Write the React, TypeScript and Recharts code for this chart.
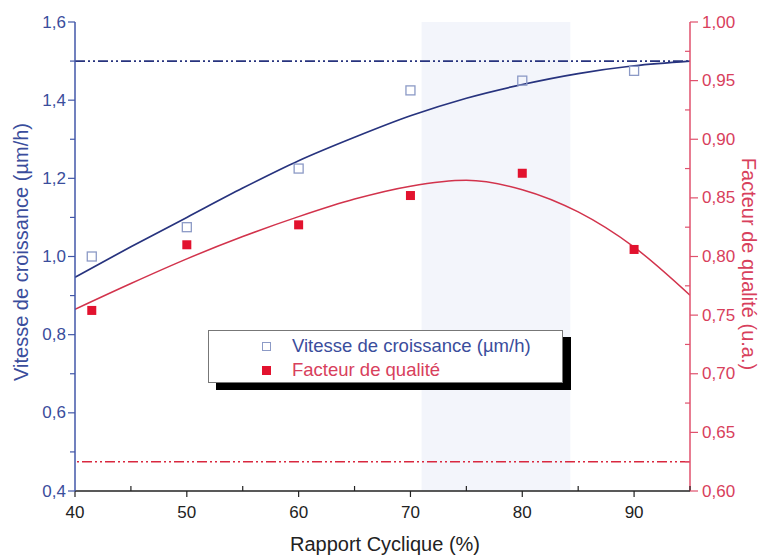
import React from 'react';
import { ComposedChart, Line, Scatter, XAxis, YAxis, ReferenceLine, ReferenceArea } from 'recharts';

// Measured points
const rapportCyclique = [41.5, 50, 60, 70, 80, 90];
const vitesseMesuree = [1.0, 1.075, 1.225, 1.425, 1.45, 1.475];
const qualiteMesuree = [0.754, 0.81, 0.827, 0.852, 0.871, 0.806];

// Fitted curves
const fitX = [40, 45, 50, 55, 60, 65, 70, 75, 80, 85, 90, 95];
const vitesseFit = [0.947, 1.025, 1.1, 1.175, 1.245, 1.305, 1.36, 1.405, 1.44, 1.468, 1.488, 1.5];
const qualiteFit = [0.755, 0.777, 0.798, 0.817, 0.834, 0.849, 0.86, 0.865, 0.857, 0.838, 0.808, 0.767];

// Reference (threshold) lines
const seuilVitesse = 1.5;
const seuilQualite = 0.625;

// Faint background band
const bandeX = [71, 84.3];

// Ticks
const xTicks = [40, 45, 50, 55, 60, 65, 70, 75, 80, 85, 90, 95];
const leftTicks = [0.4, 0.5, 0.6, 0.7, 0.8, 0.9, 1.0, 1.1, 1.2, 1.3, 1.4, 1.5, 1.6];
const rightTicks = [0.6, 0.625, 0.65, 0.675, 0.7, 0.725, 0.75, 0.775, 0.8, 0.825, 0.85, 0.875, 0.9, 0.925, 0.95, 0.975, 1.0];

const FONT = '"Liberation Sans", Arial, Helvetica, sans-serif';
const BLUE_AXIS = '#4257a8';
const BLUE_TEXT = '#3a4d9c';
const BLUE_LINE = '#27337e';
const RED_AXIS = '#e0516d';
const RED_TEXT = '#d8405c';
const RED_LINE = '#d2334c';

const vitessePts = rapportCyclique.map((x, i) => ({ x, v: vitesseMesuree[i] }));
const qualitePts = rapportCyclique.map((x, i) => ({ x, q: qualiteMesuree[i] }));
const vitesseFitPts = fitX.map((x, i) => ({ x, v: vitesseFit[i] }));
const qualiteFitPts = fitX.map((x, i) => ({ x, q: qualiteFit[i] }));

const XTick = (props: any) => {
  const { x, y, payload } = props;
  const v = payload.value;
  const major = Math.round(v) % 10 === 0;
  return (
    <g>
      {major ? (
        <line x1={x} y1={y} x2={x} y2={y + 6} stroke="#222" strokeWidth={1.2} />
      ) : (
        <line x1={x} y1={y} x2={x} y2={y - 5} stroke="#222" strokeWidth={1.2} />
      )}
      {major && (
        <text x={x} y={y + 27} textAnchor="middle" fontSize={17} fill="#222" fontFamily={FONT}>
          {v}
        </text>
      )}
    </g>
  );
};

const LeftTick = (props: any) => {
  const { x, y, payload } = props;
  const v = payload.value;
  const major = Math.round(v * 10) % 2 === 0;
  return (
    <g>
      <line x1={x} y1={y} x2={x - (major ? 7 : 5)} y2={y} stroke={BLUE_AXIS} strokeWidth={1.2} />
      {major && (
        <text x={x - 9} y={y} textAnchor="end" dominantBaseline="central" fontSize={17} fill={BLUE_TEXT} fontFamily={FONT}>
          {v.toFixed(1).replace('.', ',')}
        </text>
      )}
    </g>
  );
};

const RightTick = (props: any) => {
  const { x, y, payload } = props;
  const v = payload.value;
  const major = Math.round(v * 1000) % 50 === 0;
  return (
    <g>
      {major ? (
        <line x1={x} y1={y} x2={x + 8} y2={y} stroke={RED_AXIS} strokeWidth={1.2} />
      ) : (
        <line x1={x} y1={y} x2={x - 5} y2={y} stroke={RED_AXIS} strokeWidth={1.2} />
      )}
      {major && (
        <text x={x + 12} y={y} textAnchor="start" dominantBaseline="central" fontSize={17} fill={RED_TEXT} fontFamily={FONT}>
          {v.toFixed(2).replace('.', ',')}
        </text>
      )}
    </g>
  );
};

const LeftTitle = () => (
  <text x={21} y={252} transform="rotate(-90 21 252)" textAnchor="middle" dominantBaseline="central" fontSize={20} fill={BLUE_TEXT} fontFamily={FONT}>
    Vitesse de croissance (µm/h)
  </text>
);

const RightTitle = () => (
  <text x={749} y={264} transform="rotate(90 749 264)" textAnchor="middle" dominantBaseline="central" fontSize={20} fill={RED_TEXT} fontFamily={FONT}>
    Facteur de qualité (u.a.)
  </text>
);

const BottomTitle = () => (
  <text x={385} y={544} textAnchor="middle" dominantBaseline="central" fontSize={20} fill="#222" fontFamily={FONT}>
    Rapport Cyclique (%)
  </text>
);

const OpenSquare = (p: any) => (
  <rect x={p.cx - 4.5} y={p.cy - 4.5} width={9} height={9} fill="none" stroke="#8c9ac6" strokeWidth={1.3} />
);
const FilledSquare = (p: any) => (
  <rect x={p.cx - 4.5} y={p.cy - 4.5} width={9} height={9} fill="#e2122e" />
);

export default function App() {
  return (
    <div style={{ position: 'absolute', left: 0, top: 0, width: 762, height: 558, background: '#fff', fontFamily: FONT }}>
      <ComposedChart width={762} height={558} margin={{ top: 22, right: 0, bottom: 0, left: 0 }}>
        <XAxis
          dataKey="x"
          type="number"
          domain={[40, 95]}
          ticks={xTicks}
          interval={0}
          height={67}
          tickSize={0}
          tickMargin={0}
          tick={<XTick />}
          axisLine={{ stroke: '#222', strokeWidth: 1.5 }}
          label={<BottomTitle />}
          allowDataOverflow
        />
        <XAxis xAxisId="top" orientation="top" type="number" domain={[40, 95]} height={0} tick={false} tickLine={false} axisLine={{ stroke: '#222', strokeWidth: 1.5 }} />
        <YAxis
          yAxisId="left"
          type="number"
          domain={[0.4, 1.6]}
          ticks={leftTicks}
          interval={0}
          width={75}
          tickSize={0}
          tickMargin={0}
          tick={<LeftTick />}
          axisLine={{ stroke: BLUE_AXIS, strokeWidth: 1.5 }}
          label={<LeftTitle />}
          allowDataOverflow
        />
        <YAxis
          yAxisId="right"
          orientation="right"
          type="number"
          domain={[0.6, 1.0]}
          ticks={rightTicks}
          interval={0}
          width={72}
          tickSize={0}
          tickMargin={0}
          tick={<RightTick />}
          axisLine={{ stroke: RED_AXIS, strokeWidth: 1.5 }}
          label={<RightTitle />}
          allowDataOverflow
        />
        <ReferenceArea yAxisId="left" x1={bandeX[0]} x2={bandeX[1]} y1={0.4} y2={1.6} fill="#eef1f9" fillOpacity={0.7} stroke="none" />
        <ReferenceLine yAxisId="left" y={seuilVitesse} stroke={BLUE_LINE} strokeWidth={1.6} strokeDasharray="10 3 2 3 2 3" />
        <ReferenceLine yAxisId="right" y={seuilQualite} stroke="#d9283f" strokeWidth={1.6} strokeDasharray="10 3 2 3 2 3" />
        <Line yAxisId="left" data={vitesseFitPts} dataKey="v" type="monotone" stroke={BLUE_LINE} strokeWidth={1.7} dot={false} isAnimationActive={false} />
        <Line yAxisId="right" data={qualiteFitPts} dataKey="q" type="monotone" stroke={RED_LINE} strokeWidth={1.5} dot={false} isAnimationActive={false} />
        <Scatter yAxisId="left" data={vitessePts} dataKey="v" shape={<OpenSquare />} isAnimationActive={false} />
        <Scatter yAxisId="right" data={qualitePts} dataKey="q" shape={<FilledSquare />} isAnimationActive={false} />
      </ComposedChart>
      <div
        style={{
          position: 'absolute',
          left: 208,
          top: 330,
          width: 353,
          height: 51,
          border: '1px solid #777',
          background: '#fff',
          boxShadow: '8px 7px 0 #000',
          fontSize: 18.5,
        }}
      >
        <div style={{ position: 'absolute', left: 53, top: 11, width: 9, height: 9, border: '1.3px solid #8c9ac6', boxSizing: 'border-box' }} />
        <div style={{ position: 'absolute', left: 83, top: 4, color: BLUE_TEXT, whiteSpace: 'nowrap', lineHeight: '22px' }}>
          Vitesse de croissance (µm/h)
        </div>
        <div style={{ position: 'absolute', left: 53, top: 35, width: 9, height: 9, background: '#e2122e' }} />
        <div style={{ position: 'absolute', left: 83, top: 28, color: RED_TEXT, whiteSpace: 'nowrap', lineHeight: '22px' }}>
          Facteur de qualité
        </div>
      </div>
    </div>
  );
}
